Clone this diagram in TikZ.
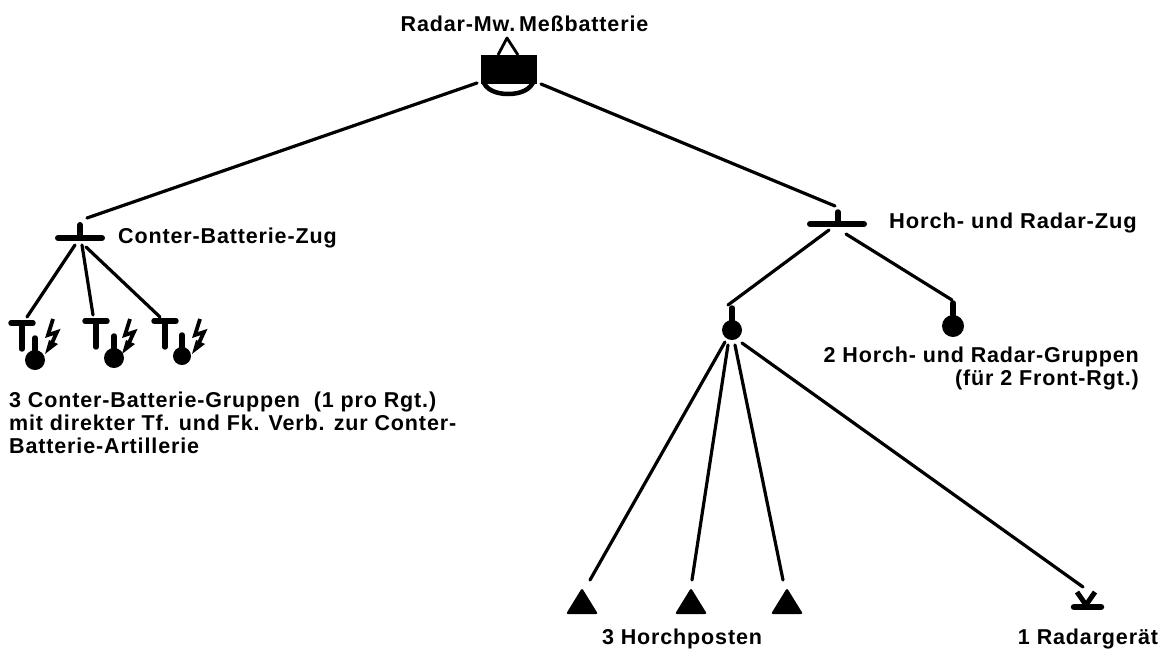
\documentclass[tikz,border=0pt]{standalone}
\usepackage{fontspec}
\setmainfont[LetterSpace=4]{Liberation Sans}
\begin{document}
\begin{tikzpicture}[x=1pt,y=-1pt,
  conn/.style={line width=3.2pt,line cap=round},
  bar/.style={line width=6pt,line cap=round},
  thin bar/.style={line width=5.4pt,line cap=round},
  lab/.style={inner sep=0pt,font=\bfseries\fontsize{21.5}{23}\selectfont,align=left},
  pics/boltmark/.style={code={
    \draw[line width=3.8pt,line join=miter] (3,-16) -- (-2,0) -- (7,-3) -- (1,10);
    \fill (-5,19) -- (-1,5) -- (8,9) -- cycle;
  }},
  pics/tsignal/.style={code={
    \draw[thin bar] (-11,0) -- (11,0);
    \draw[thin bar] (0,0) -- (0,26);
  }},
  pics/unit/.style={code={
    \fill (0,0) circle[radius=#1];
    \draw[line width=5.5pt,line cap=round] (0,-#1) -- (0,-#1-12);
  }},
  pics/post/.style={code={
    \fill[rounded corners=2pt] (0,-25) -- (16,1) -- (-16,1) -- cycle;
  }}]
\useasboundingbox (0,0) rectangle (1165,649);
\fill[white] (0,0) rectangle (1165,649);

% title symbol
\coordinate (hq) at (509,68);
\draw[line width=2.8pt,line join=round] (498,55) -- (507,38) -- (518,55);
\fill (481,55) rectangle (537,84);
\draw[line width=4.5pt] (483,80) .. controls (485,90) and (497,94) .. (508,94) .. controls (520,94) and (531,90) .. (534,80);
\coordinate (hqL) at (477,83);
\coordinate (hqR) at (541,84);

% Zug symbols
\coordinate (zl) at (80,238);
\draw[bar] (58,238) -- (102,238);
\draw[line width=6pt,line cap=round] (80,238) -- (80,225);
\coordinate (zlTop) at (87,218);
\coordinate (zlA) at (75,245);
\coordinate (zlB) at (82,245);
\coordinate (zlC) at (86,247);

\coordinate (zr) at (838,224);
\draw[bar] (810,224) -- (864,224);
\draw[line width=5.5pt,line cap=round] (838,224) -- (838,212);
\coordinate (zrTop) at (835,206);
\coordinate (zrA) at (829,230);
\coordinate (zrB) at (846,234);

% Gruppen
\coordinate (t1) at (22,323);
\coordinate (t2) at (96,321);
\coordinate (t3) at (165,321);
\pic at (t1) {tsignal};
\pic at (t2) {tsignal};
\pic at (t3) {tsignal};
\pic at (35,360) {unit=10};
\pic at (114,358) {unit=10};
\pic at (182,356) {unit=9};
\pic at (50,335) {boltmark};
\pic at (127,335) {boltmark};
\pic at (197,335) {boltmark};
\coordinate (t1Top) at (27,317);
\coordinate (t2Top) at (93,315);
\coordinate (t3Top) at (160,317);

% Horch units
\coordinate (gl) at (732,330);
\coordinate (gr) at (953,326);
\pic at (gl) {unit=10};
\pic at (gr) {unit=11};
\coordinate (glTop) at (728,305);
\coordinate (grTop) at (952,300);
\coordinate (glA) at (725,342);
\coordinate (glB) at (728,345);
\coordinate (glC) at (735,345);
\coordinate (glD) at (742,343);

% Posts
\coordinate (p1) at (582,613);
\coordinate (p2) at (691,613);
\coordinate (p3) at (787,613);
\pic at (p1) {post};
\pic at (p2) {post};
\pic at (p3) {post};
\coordinate (p1Top) at (590,580);
\coordinate (p2Top) at (692,580);
\coordinate (p3Top) at (783,580);

% Radar
\coordinate (rad) at (1087,606);
\draw[line width=6.5pt,line cap=round] (1074,607) -- (1101,607);
\draw[line width=5pt] (1077,592) -- (1086,605) -- (1095,592);
\coordinate (radTop) at (1083,587);

% connectors
\draw[conn] (hqL) -- (zlTop);
\draw[conn] (hqR) -- (zrTop);
\draw[conn] (zlA) -- (t1Top);
\draw[conn] (zlB) -- (t2Top);
\draw[conn] (zlC) -- (t3Top);
\draw[conn] (zrA) -- (glTop);
\draw[conn] (zrB) -- (grTop);
\draw[conn] (glA) -- (p1Top);
\draw[conn] (glB) -- (p2Top);
\draw[conn] (glC) -- (p3Top);
\draw[conn] (glD) -- (radTop);

% labels
\node[lab,anchor=base] (ttitle) at (524.5,31) {Radar-Mw.\,Meßbatterie};
\node[lab,anchor=base west] (tzl) at (118,243) {Conter-Batterie-Zug};
\node[lab,anchor=base west,xscale=1.02] (tzr) at (889,228) {Horch- und Radar-Zug};
\node[lab,anchor=base west] (tgl) at (9,453) {3 Conter-Batterie-Gruppen\ \ (1 pro Rgt.)\\mit direkter Tf. und Fk. Verb. zur Conter-\\Batterie-Artillerie};
\node[lab,anchor=base east,align=right] (tgr) at (1139,385) {2 Horch- und Radar-Gruppen\\(für 2 Front-Rgt.)};
\node[lab,anchor=base] (tp) at (682,644) {3 Horchposten};
\node[lab,anchor=base] (tr) at (1088,644) {1 Radargerät};
\end{tikzpicture}
\end{document}
